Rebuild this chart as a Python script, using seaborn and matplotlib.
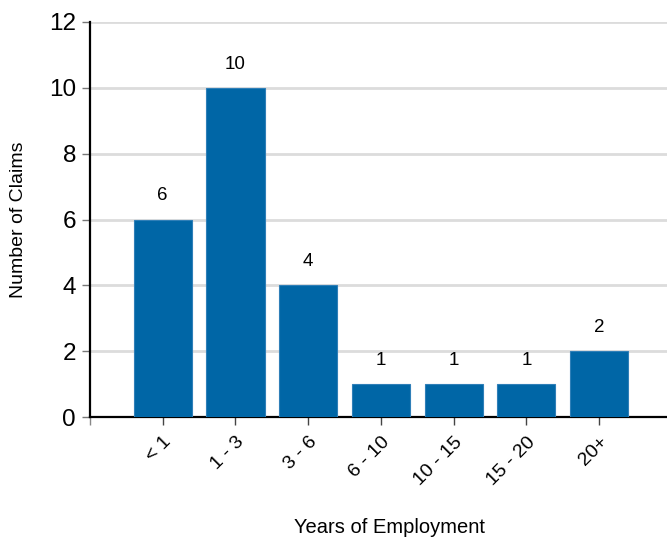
import matplotlib
matplotlib.use("Agg")
import matplotlib.pyplot as plt
import seaborn as sns
import pandas as pd

categories = ["< 1", "1 - 3", "3 - 6", "6 - 10", "10 - 15", "15 - 20", "20+"]
claims = [6, 10, 4, 1, 1, 1, 2]
y_ticks = [0, 2, 4, 6, 8, 10, 12]

df = pd.DataFrame({"years": categories, "claims": claims})

sns.set_theme(style="white")
plt.rcParams["font.family"] = ["Liberation Sans", "DejaVu Sans"]
plt.rcParams["text.color"] = "black"
plt.rcParams["axes.labelcolor"] = "black"
plt.rcParams["xtick.color"] = "black"
plt.rcParams["ytick.color"] = "black"

fig = plt.figure(figsize=(6.67, 5.4), dpi=100)
ax = fig.add_axes([90 / 667, 1 - 417 / 540, 600 / 667, 395 / 540])

sns.barplot(data=df, x="years", y="claims", color="#0066a6", saturation=1,
            width=0.8, edgecolor="#2f7fb8", linewidth=0.8, ax=ax, zorder=3)

ax.set_xlim(-1, 7.25)
ax.set_ylim(0, 12)
ax.set_yticks(y_ticks)
ax.set_yticklabels([str(t) for t in y_ticks], fontsize=17.5)
ax.yaxis.grid(True, color="#dcdcdc", linewidth=2, zorder=0)
ax.set_axisbelow(True)

for sp in ["top", "right"]:
    ax.spines[sp].set_visible(False)
for sp in ["left", "bottom"]:
    ax.spines[sp].set_color("black")
    ax.spines[sp].set_linewidth(1.6)

ax.tick_params(axis="y", which="major", left=True, length=6, width=1,
               color="#777777", pad=4)
ax.tick_params(axis="x", which="major", bottom=True, length=6, width=1,
               color="#444444", pad=6)
ax.set_xticks([-1], minor=True)
ax.tick_params(axis="x", which="minor", bottom=True, length=6, width=1,
               color="#888888")
ax.set_xticks(range(len(categories)))
ax.set_xticklabels(categories, rotation=45, ha="right", rotation_mode="anchor",
                   fontsize=14)

for cont in ax.containers:
    ax.bar_label(cont, labels=[str(v) for v in claims], padding=11,
                 fontsize=13.5, color="black")

ax.set_xlabel("Years of Employment", fontsize=14.5, labelpad=21)
ax.set_ylabel("Number of Claims", fontsize=14, labelpad=16)

fig.savefig("out.png", dpi=100)
